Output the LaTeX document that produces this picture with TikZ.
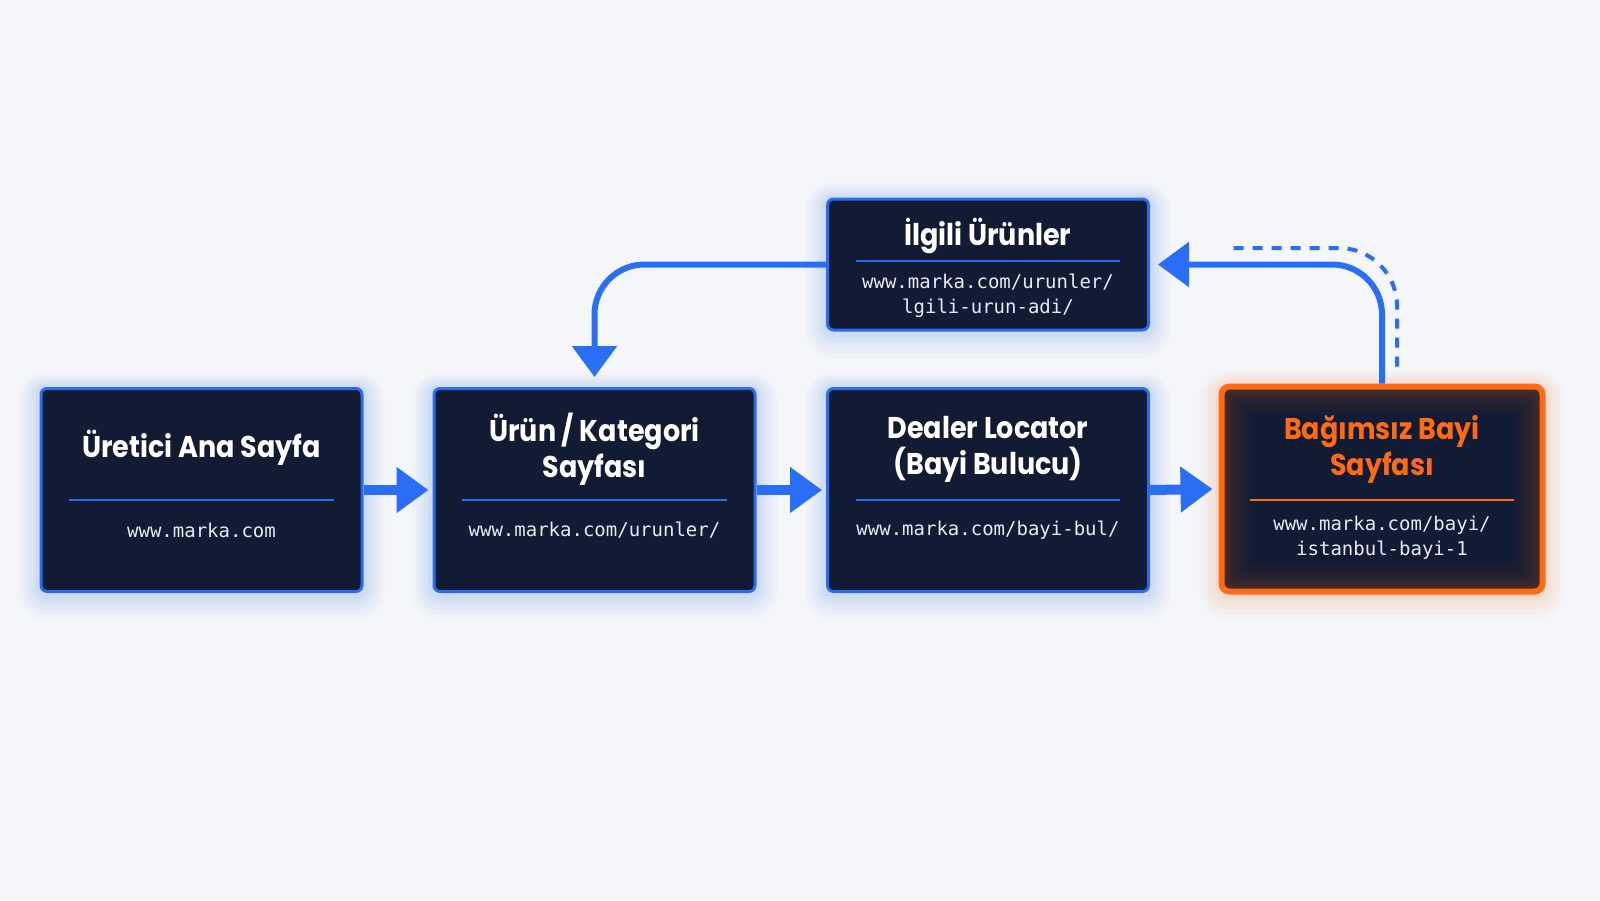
\documentclass[tikz,border=0pt]{standalone}
\usepackage{fontspec}
\setmainfont{Poppins}
\newfontfamily\titlefont{Poppins}[FakeStretch=0.9]
\newfontfamily\urlfont{DejaVu Sans Mono}
\usetikzlibrary{arrows.meta}
\definecolor{bg}{HTML}{F4F6FA}
\definecolor{navy}{HTML}{111B34}
\definecolor{bblue}{HTML}{2B6CEE}
\definecolor{arrowblue}{HTML}{2A6EF5}
\definecolor{orng}{HTML}{FF6A12}
\definecolor{urltxt}{HTML}{E8EAF0}
\tikzset{
  glow/.style={
    preaction={draw=#1, draw opacity=0.025, line width=44pt, rounded corners=22pt, transform canvas={yshift=-6pt}},
    preaction={draw=#1, draw opacity=0.03, line width=36pt, rounded corners=18pt, transform canvas={yshift=-5pt}},
    preaction={draw=#1, draw opacity=0.035, line width=28pt, rounded corners=14pt, transform canvas={yshift=-4pt}},
    preaction={draw=#1, draw opacity=0.04, line width=20pt, rounded corners=10pt, transform canvas={yshift=-3pt}},
    preaction={draw=#1, draw opacity=0.06, line width=12pt, rounded corners=8pt, transform canvas={yshift=-2pt}}},
  box/.style={glow=bblue, draw=bblue, line width=3pt, fill=navy, rounded corners=6pt,
    minimum width=321pt, minimum height=203pt, inner sep=0pt},
  hotbox/.style={glow=orng, draw=orng, line width=6pt, fill=navy, rounded corners=8pt,
    minimum width=321pt, minimum height=205pt, inner sep=0pt,
    path picture={
      \foreach \w/\o in {56/0.03, 46/0.03, 36/0.035, 28/0.04, 20/0.05, 12/0.06}{
        \draw[orng, draw opacity=\o, line width=\w pt, rounded corners=14pt]
          (path picture bounding box.south west) rectangle (path picture bounding box.north east);
      }
    }},
  title/.style={text=white, font=\titlefont\bfseries\fontsize{30}{36}\selectfont, align=center, inner sep=0pt},
  url/.style={text=urltxt, font=\urlfont\fontsize{19}{24.5}\selectfont, align=center, inner sep=0pt},
  divider/.style={draw=bblue, line width=2pt},
  flowarrow/.style={draw=arrowblue, line width=10pt, -{Triangle[length=32pt, width=44pt]}},
  looparrow/.style={draw=arrowblue, line width=6pt, rounded corners=50pt, -{Triangle[length=31pt, width=44pt]}},
  dashline/.style={draw=arrowblue, line width=4pt, dash pattern=on 10pt off 9pt, rounded corners=58pt}
}
\begin{document}
\begin{tikzpicture}[x=1pt, y=-1pt]
\useasboundingbox (0,0) rectangle (1600,900);
\fill[bg] (0,0) rectangle (1600,900);

% boxes
\node[box] (n1) at (201.5,490) {};
\node[box] (n2) at (594.5,490) {};
\node[box] (n3) at (988,490) {};
\node[hotbox] (n4) at (1382,489) {};
\node[box, minimum height=131pt] (top) at (988,264.5) {};

% connectors
\draw[flowarrow] (n1.east) -- ([xshift=-4pt]n2.west);
\draw[flowarrow] (n2.east) -- ([xshift=-4pt]n3.west);
\draw[flowarrow] (n3.east) -- ([xshift=-6pt]n4.west);
\draw[looparrow] (top.west) -| ([yshift=10pt]n2.north);
\draw[looparrow] (n4.north) |- ([xshift=8pt]top.east);
\coordinate (dA) at ([xshift=15pt,yshift=17pt]n4.north);
\coordinate (dB) at ([xshift=76pt,yshift=16.5pt]top.east);
\draw[dashline] (dA) |- (dB);

% dividers
\draw[divider] (69,500) -- (334,500);
\draw[divider] (462,500) -- (727,500);
\draw[divider] (856,500) -- (1120,500);
\draw[divider, draw=orng] (1250,500) -- (1514,500);
\draw[divider] (856,261) -- (1120,261);

% texts
\node[title] (t1) at (201.5,448) {Üretici Ana Sayfa};
\node[url] (u1) at (201.5,530) {www.marka.com};
\node[title] (t2) at (594.5,449.5) {Ürün / Kategori\\Sayfası};
\node[url] (u2) at (594.5,530) {www.marka.com/urunler/};
\node[title] (t3) at (988,449.5) {Dealer Locator\\(Bayi Bulucu)};
\node[url] (u3) at (988,530) {www.marka.com/bayi-bul/};
\node[title, text=orng] (t4) at (1382,449.5) {Bağımsız Bayi\\Sayfası};
\node[url] (u4) at (1382,537.5) {www.marka.com/bayi/\\istanbul-bayi-1};
\node[title] (tt) at (988,236) {İlgili Ürünler};
\node[url] (ut) at (988,296) {www.marka.com/urunler/\\lgili-urun-adi/};
\end{tikzpicture}
\end{document}
